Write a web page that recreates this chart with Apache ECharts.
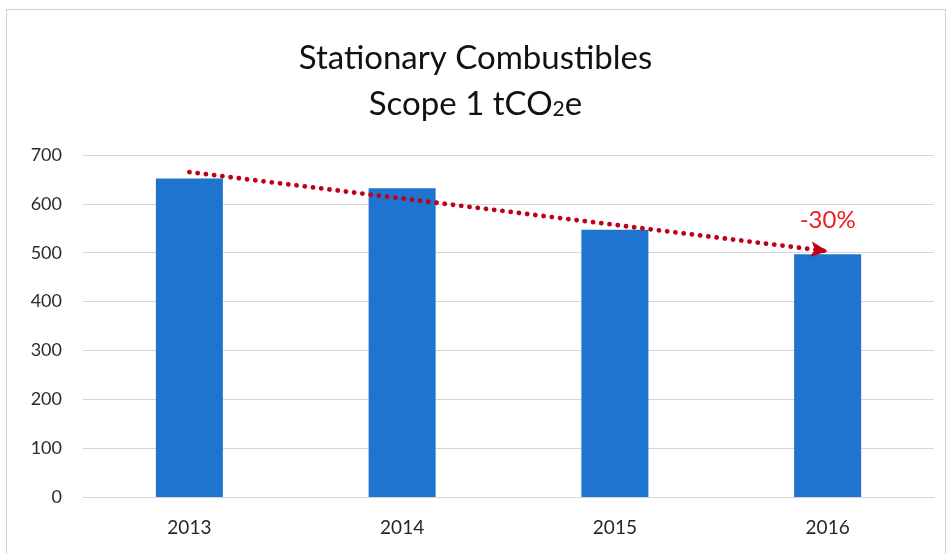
<!DOCTYPE html>
<html>
<head>
<meta charset="utf-8">
<script src="https://cdn.jsdelivr.net/npm/echarts@6/dist/echarts.min.js"></script>
<style>
html,body{margin:0;padding:0;background:#fff;}
#frame{position:absolute;left:6px;top:9px;width:940px;height:560px;border:1px solid #cfcfcf;box-sizing:border-box;}
#main{position:absolute;left:0;top:0;width:951px;height:554px;}
</style>
</head>
<body>
<div id="frame"></div>
<div id="main"></div>
<script>
const categories = ['2013', '2014', '2015', '2016'];
const emissions = [652, 632, 547, 497];
const yTicks = [0, 100, 200, 300, 400, 500, 600, 700];
const trendStart = ['2013', 665];
const trendEnd = ['2016', 503];
const changeLabel = '-30%';
const changeLabelAt = ['2016', 566];

const chart = echarts.init(document.getElementById('main'), null, {renderer: 'canvas'});
const fontFam = 'Lato, "Open Sans", sans-serif';
chart.setOption({
  animation: false,
  title: {
    text: 'Stationary Combustibles\n{n|Scope 1 tCO}{s|2}{n|e}',
    left: 'center',
    top: 30,
    textStyle: {
      fontFamily: fontFam,
      fontSize: 33,
      fontWeight: 'normal',
      color: '#111',
      lineHeight: 46,
      rich: {
        n: {fontFamily: fontFam, fontSize: 33, color: '#111', lineHeight: 46},
        s: {fontFamily: fontFam, fontSize: 21, color: '#111', lineHeight: 46, padding: [10, 0, 0, 0]}
      }
    }
  },
  grid: {left: 83, right: 17, top: 155, bottom: 57, containLabel: false},
  xAxis: {
    type: 'category',
    data: categories,
    axisTick: {show: false},
    axisLine: {lineStyle: {color: '#d6d6d6'}},
    axisLabel: {fontFamily: fontFam, fontSize: 19, color: '#262626', margin: 21}
  },
  yAxis: {
    type: 'value',
    min: yTicks[0],
    max: yTicks[yTicks.length - 1],
    interval: yTicks[1] - yTicks[0],
    axisLine: {show: false},
    axisTick: {show: false},
    splitLine: {lineStyle: {color: '#d6d6d6', width: 1}},
    axisLabel: {fontFamily: fontFam, fontSize: 18, color: '#2b2b2b', margin: 21}
  },
  series: [{
    type: 'bar',
    data: emissions,
    barWidth: 67,
    itemStyle: {color: '#1f74cf'},
    markLine: {
      silent: true,
      symbol: ['none', 'arrow'],
      symbolSize: [12, 17],
      lineStyle: {color: '#c00018', type: [0.1, 8.2], width: 4.8, cap: 'round'},
      label: {show: false},
      data: [[{coord: trendStart}, {coord: trendEnd}]]
    },
    markPoint: {
      silent: true,
      symbol: 'circle',
      symbolSize: 0,
      label: {show: true, formatter: changeLabel, fontFamily: fontFam, fontSize: 24, color: '#ee1c24'},
      data: [{coord: changeLabelAt}]
    }
  }]
});
</script>
</body>
</html>
